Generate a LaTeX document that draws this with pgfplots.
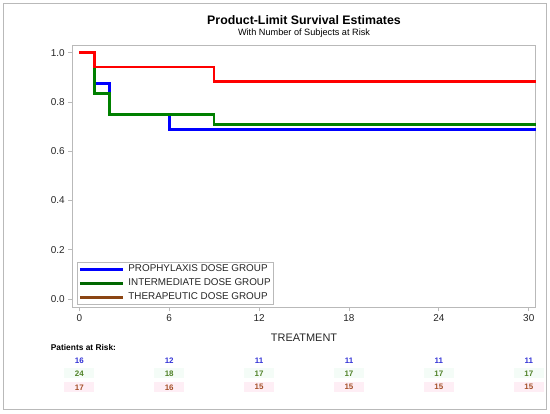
\documentclass[border=0pt]{standalone}
\usepackage{fontspec}
\setmainfont{Liberation Sans}
\usepackage{pgfplots}
\pgfplotsset{compat=1.18}

\definecolor{kmblue}{RGB}{0,0,255}
\definecolor{kmgreen}{RGB}{0,128,0}
\definecolor{kmred}{RGB}{255,0,0}
\definecolor{legbrown}{RGB}{139,69,19}
\definecolor{riskblue}{RGB}{51,51,214}
\definecolor{riskgreen}{RGB}{80,130,40}
\definecolor{riskbrown}{RGB}{165,80,40}
\definecolor{mint}{RGB}{244,252,247}
\definecolor{blush}{RGB}{254,238,245}
\definecolor{framegray}{RGB}{185,185,185}

\begin{document}
\begin{tikzpicture}
\useasboundingbox (0,0) rectangle (550bp,414bp);
\draw[framegray, line width=0.8bp] (3.3bp,5bp) rectangle (546bp,410.5bp);

\node[font=\fontsize{12.4}{14}\selectfont\bfseries] at (304bp,394bp) {Product-Limit Survival Estimates};
\node[font=\fontsize{9.2}{11}\selectfont] at (304bp,380.7bp) {With Number of Subjects at Risk};
\node[font=\fontsize{8.4}{10}\selectfont\bfseries, anchor=west, inner sep=0] at (50.7bp,66.7bp) {Patients at Risk:};

\begin{axis}[
    at={(72.3bp,106.7bp)}, anchor=south west,
    scale only axis,
    width=463.5bp, height=261.6bp,
    xmin=-0.47, xmax=30.47,
    ymin=-0.033, ymax=1.028,
    xtick={0,6,12,18,24,30},
    ytick={0,0.2,0.4,0.6,0.8,1.0},
    yticklabel style={/pgf/number format/.cd, fixed, fixed zerofill, precision=1},
    /pgf/number format/assume math mode=true,
    tick align=outside,
    xtick pos=bottom, ytick pos=left,
    major tick length=4bp,
    every tick/.style={framegray, line width=0.8bp},
    axis line style={framegray, line width=0.8bp},
    ticklabel style={font=\fontsize{10}{12}\selectfont, text=black!85},
    xlabel={TREATMENT},
    xlabel style={at={(axis description cs:0.5,-0.117)}, anchor=center, font=\fontsize{11}{13}\selectfont, text=black!85},
    clip=false,
    legend style={at={(0.0095,0.0126)}, anchor=south west, draw=framegray,
        font=\fontsize{9.9}{11}\selectfont, text=black!85,
        inner xsep=1.5bp, inner ysep=1bp, row sep=2.5bp, column sep=3bp,
        nodes={inner sep=1bp, text height=7.5bp, text depth=2bp}},
    legend cell align=left,
    legend image code/.code={\draw[#1, line width=3bp] (0bp,0bp) -- (43bp,0bp);},
]
% survival curves (step functions)
\addplot[const plot, kmblue, line width=2.6bp, forget plot] coordinates {
(0,1) (1,0.875) (2,0.75) (6,0.6875) (30.45,0.6875)};
\addplot[const plot, kmgreen, line width=2.6bp, forget plot] coordinates {
(0,1) (1,0.8333) (2,0.75) (9,0.7083) (30.45,0.7083)};
\addplot[const plot, kmred, line width=2.6bp, forget plot] coordinates {
(0,1) (1,0.9412) (9,0.8824) (30.45,0.8824)};

\addlegendimage{kmblue, line width=3bp}
\addlegendentry{PROPHYLAXIS DOSE GROUP}
\addlegendimage{kmgreen!80!black, line width=3bp}
\addlegendentry{INTERMEDIATE DOSE GROUP}
\addlegendimage{legbrown, line width=3bp}
\addlegendentry{THERAPEUTIC DOSE GROUP}

% patients at risk
\addplot[draw=none, mark=none, forget plot, nodes near coords, point meta=explicit symbolic,
    every node near coord/.style={anchor=center, text=riskblue, font=\fontsize{8}{9}\selectfont\bfseries,
        minimum width=30bp, minimum height=10bp, inner sep=0}]
    table[meta=n] {
x y n
0 -0.2495 16
6 -0.2495 12
12 -0.2495 11
18 -0.2495 11
24 -0.2495 11
30 -0.2495 11
};
\addplot[draw=none, mark=none, forget plot, nodes near coords, point meta=explicit symbolic,
    every node near coord/.style={anchor=center, text=riskgreen, fill=mint, font=\fontsize{8}{9}\selectfont\bfseries,
        minimum width=30bp, minimum height=10bp, inner sep=0}]
    table[meta=n] {
x y n
0 -0.3006 24
6 -0.3006 18
12 -0.3006 17
18 -0.3006 17
24 -0.3006 17
30 -0.3006 17
};
\addplot[draw=none, mark=none, forget plot, nodes near coords, point meta=explicit symbolic,
    every node near coord/.style={anchor=center, text=riskbrown, fill=blush, font=\fontsize{8}{9}\selectfont\bfseries,
        minimum width=30bp, minimum height=10bp, inner sep=0}]
    table[meta=n] {
x y n
0 -0.3574 17
6 -0.3574 16
12 -0.3574 15
18 -0.3574 15
24 -0.3574 15
30 -0.3574 15
};
\end{axis}
\end{tikzpicture}
\end{document}
